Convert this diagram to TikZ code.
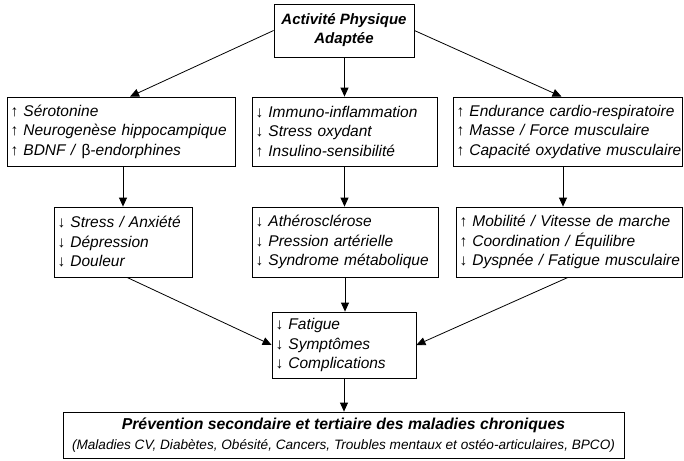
\documentclass[tikz,border=0pt]{standalone}
\usepackage{fontspec}
\setmainfont{Liberation Sans}
\usetikzlibrary{arrows.meta,calc}
\newcommand\UpItem[1]{\mbox{{\upshape↑} \textit{#1}}}
\newcommand\DnItem[1]{\mbox{{\upshape↓} \textit{#1}}}
\begin{document}
\begin{tikzpicture}[x=1pt,y=1pt,
  box/.style={draw=black, line width=0.8pt, fill=white, inner xsep=3.5pt, inner ysep=0pt,
    font=\fontsize{15.5}{19.5}\selectfont},
  lbox/.style={box, align=left},
  arr/.style={line width=0.8pt, -{Triangle[length=9pt,width=8pt]}}]
\useasboundingbox (0,0) rectangle (684,-460);
% top
\node[box, align=center, minimum width=140pt, minimum height=53pt,
  font=\fontsize{15}{19}\selectfont\bfseries\itshape] (top) at (344,-30.5)
  {Activité Physique\\Adaptée};
% row 1
\node[lbox, minimum width=228pt, minimum height=69pt, text width=221pt] (L1) at (121,-131.5)
  {\UpItem{Sérotonine}\\\UpItem{Neurogenèse hippocampique}\\\mbox{{\upshape↑} \textit{BDNF /} {\upshape β}\textit{-endorphines}}};
\node[lbox, minimum width=185pt, minimum height=69pt, text width=178pt] (M1) at (344.5,-131.5)
  {\DnItem{Immuno-inflammation}\\\DnItem{Stress oxydant}\\\UpItem{Insulino-sensibilité}};
\node[lbox, minimum width=229pt, minimum height=69pt, text width=222pt] (R1) at (567.5,-131.5)
  {\UpItem{Endurance cardio-respiratoire}\\\UpItem{Masse / Force musculaire}\\\UpItem{Capacité oxydative musculaire}};
% row 2
\node[lbox, minimum width=138pt, minimum height=70pt, text width=131pt] (L2) at (123,-242)
  {\DnItem{Stress / Anxiété}\\\DnItem{Dépression}\\\DnItem{Douleur}};
\node[lbox, minimum width=186pt, minimum height=70pt, text width=179pt] (M2) at (345,-242)
  {\DnItem{Athérosclérose}\\\DnItem{Pression artérielle}\\\DnItem{Syndrome métabolique}};
\node[lbox, minimum width=226pt, minimum height=70pt, text width=219pt] (R2) at (569,-242)
  {\UpItem{Mobilité / Vitesse de marche}\\\UpItem{Coordination / Équilibre}\\\DnItem{Dyspnée / Fatigue musculaire}};
% fatigue
\node[lbox, minimum width=144pt, minimum height=66pt, text width=137pt] (F) at (344,-345)
  {\DnItem{Fatigue}\\\DnItem{Symptômes}\\\DnItem{Complications}};
% bottom
\node[box, align=center, minimum width=561pt, minimum height=46pt] (B) at (343.5,-435)
  {{\fontsize{15.8}{19}\selectfont\bfseries\itshape Prévention secondaire et tertiaire des maladies chroniques}\\
   {\fontsize{13.6}{15}\selectfont\itshape (Maladies CV, Diabètes, Obésité, Cancers, Troubles mentaux et ostéo-articulaires, BPCO)}};
% connectors
\coordinate (tL) at ([xshift=9pt]L1.north);
\coordinate (tR) at ([xshift=-6pt]R1.north);
\draw[arr] (top.west) -- (tL);
\draw[arr] (top.east) -- (tR);
\draw[arr] (top.south -| M1.north) -- (M1.north);
\coordinate (l12) at (L2.north |- L1.south);
\draw[arr] (l12) -- (L2.north);
\draw[arr] (M1.south) -- (M1.south |- M2.north);
\coordinate (r12) at ([xshift=-4.5pt]R1.south);
\draw[arr] (r12) -- (r12 |- R2.north);
\coordinate (l2s) at ([xshift=4pt]L2.south);
\coordinate (r2s) at ([xshift=-1pt]R2.south);
\draw[arr] (l2s) -- (F.west);
\draw[arr] (r2s) -- (F.east);
\draw[arr] (M2.south) -- (M2.south |- F.north);
\draw[arr] (F.south) -- (F.south |- B.north);
\end{tikzpicture}
\end{document}
